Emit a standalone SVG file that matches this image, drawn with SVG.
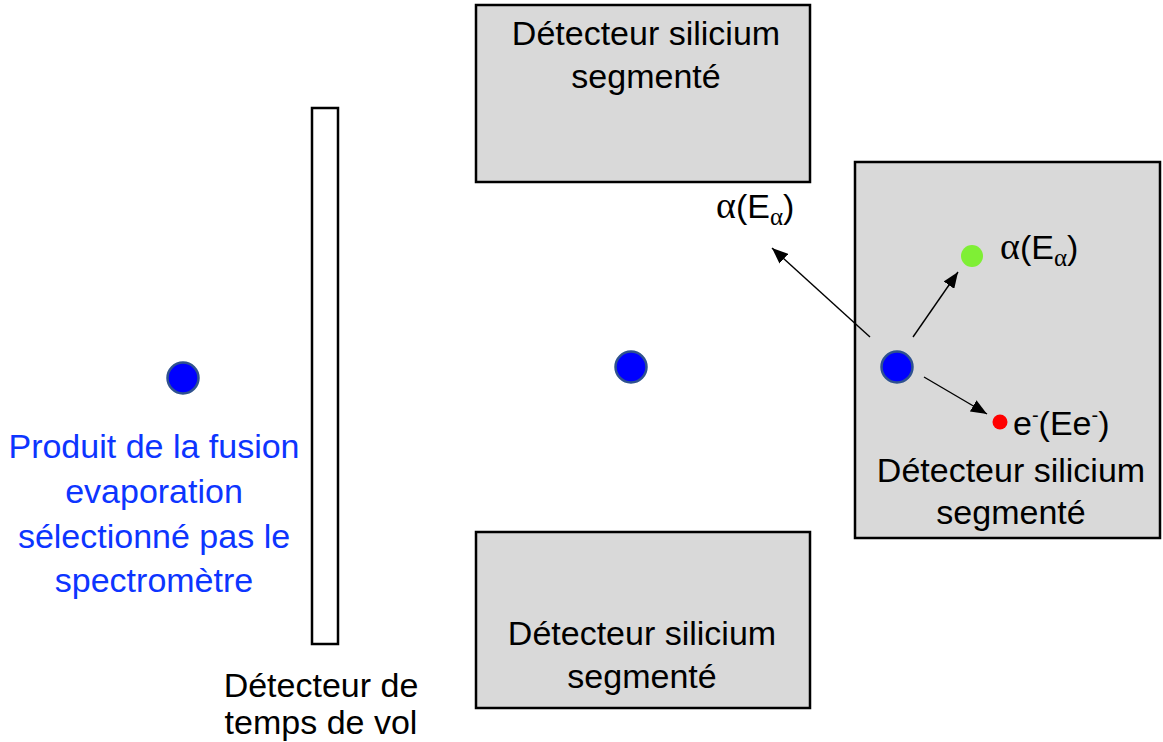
<svg xmlns="http://www.w3.org/2000/svg" width="1163" height="742" viewBox="0 0 1163 742">
<style>
.det{fill:#D9D9D9;stroke:#000;stroke-width:2.5}
.t{font-family:"Liberation Sans",Arial,sans-serif;font-size:34px;fill:#000;text-anchor:middle}
.tl{font-family:"Liberation Sans",Arial,sans-serif;font-size:34px;fill:#000}
.blue{fill:#0D35FF}
.gk{font-family:"Liberation Serif","DejaVu Serif",serif}
.ion{fill:#0000FF;stroke:#2F528F;stroke-width:2.5}
.conn{stroke:#000;stroke-width:1.4;fill:none;marker-end:url(#ah)}
</style>
<defs>
<marker id="ah" markerUnits="userSpaceOnUse" markerWidth="17" markerHeight="13" refX="16" refY="6.5" orient="auto">
<path d="M0,0 L16,6.5 L0,13 z" fill="#000"/>
</marker>
</defs>
<rect width="1163" height="742" fill="#fff"/>
<g id="det-top">
<rect class="det" x="476" y="5" width="334" height="177"/>
<text class="t" x="646" y="45">Détecteur silicium</text>
<text class="t" x="646" y="88">segmenté</text>
</g>
<g id="det-bottom">
<rect class="det" x="476" y="532" width="334" height="176"/>
<text class="t" x="642" y="645">Détecteur silicium</text>
<text class="t" x="642" y="688">segmenté</text>
</g>
<g id="det-right">
<rect class="det" x="855" y="162" width="305" height="376"/>
<text class="t" x="1011" y="482">Détecteur silicium</text>
<text class="t" x="1011" y="524">segmenté</text>
</g>
<g id="tof">
<rect x="312" y="108" width="26" height="536" fill="#fff" stroke="#000" stroke-width="2.5"/>
<text class="t" x="321" y="697">Détecteur de</text>
<text class="t" x="321" y="734">temps de vol</text>
</g>
<g id="product">
<circle class="ion" cx="183" cy="378" r="15.5"/>
<text class="t blue" x="154" y="458">Produit de la fusion</text>
<text class="t blue" x="154" y="503">evaporation</text>
<text class="t blue" x="154" y="548">sélectionné pas le</text>
<text class="t blue" x="154" y="592">spectromètre</text>
</g>
<g id="ion-mid">
<circle class="ion" cx="631" cy="367" r="15.5"/>
</g>
<g id="ion-right">
<circle class="ion" cx="897" cy="367" r="15.5"/>
</g>
<g id="alpha-out">
<text class="tl" x="716" y="218"><tspan class="gk" font-size="38">α</tspan>(E<tspan class="gk" font-size="25" dy="7">α</tspan><tspan dy="-7">)</tspan></text>
</g>
<g id="alpha-in">
<circle cx="972" cy="256" r="11" fill="#7FEF35"/>
<text class="tl" x="1000" y="259"><tspan class="gk" font-size="38">α</tspan>(E<tspan class="gk" font-size="25" dy="7">α</tspan><tspan dy="-7">)</tspan></text>
</g>
<g id="electron">
<circle cx="1000" cy="422" r="7.5" fill="#FF0000"/>
<text class="tl" x="1013" y="435">e<tspan font-size="20" dy="-13">-</tspan><tspan dy="13">(Ee</tspan><tspan font-size="20" dy="-13">-</tspan><tspan dy="13">)</tspan></text>
</g>
<g id="connectors">
<line class="conn" x1="870" y1="337" x2="772" y2="248"/>
<line class="conn" x1="913" y1="337" x2="958" y2="272"/>
<line class="conn" x1="924" y1="377" x2="987" y2="414"/>
</g>
</svg>
